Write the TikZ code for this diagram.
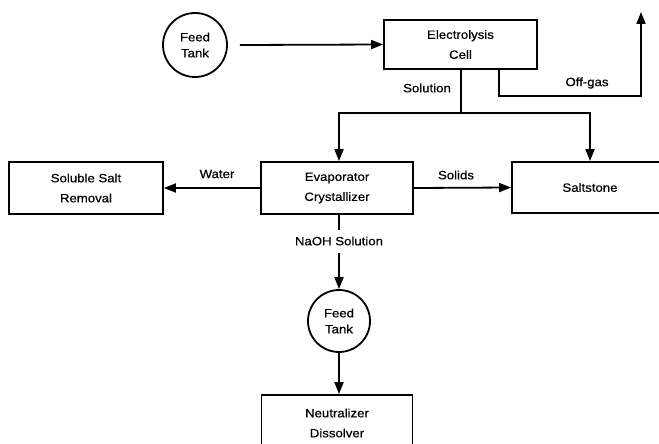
\documentclass[tikz,border=0pt]{standalone}
\usepackage{fontspec}
\setmainfont[FakeStretch=1.1,FakeBold=0.5]{Liberation Sans}
\usetikzlibrary{arrows.meta,shapes.geometric}
\begin{document}
\begin{tikzpicture}[x=1pt,y=-1pt,
  every node/.style={font=\fontsize{12}{20}\selectfont},
  unitbox/.style={draw,line width=1.8pt,rectangle,align=center,inner sep=0pt},
  tank/.style={draw,line width=1.8pt,circle,align=center,inner sep=0pt,minimum size=64pt,font=\fontsize{12}{16}\selectfont},
  flow/.style={line width=1.8pt,-{Triangle[length=12pt,width=9pt]}},
  pipe/.style={line width=1.8pt},
  lbl/.style={inner sep=0pt}]
\useasboundingbox (0,0) rectangle (659,444);
\fill[white] (0,0) rectangle (659,444);
% nodes
\node[tank] (ft1) at (195,45) {Feed\\Tank};
\node[unitbox,minimum width=153pt,minimum height=49pt] (ec) at (460.5,44.5) {Electrolysis\\Cell};
\node[unitbox,minimum width=154pt,minimum height=52pt] (ss) at (86,188) {Soluble Salt\\Removal};
\node[unitbox,minimum width=152pt,minimum height=52pt] (ev) at (337,188) {Evaporator\\Crystallizer};
\node[unitbox,minimum width=156pt,minimum height=51pt] (st) at (590,187.5) {Saltstone};
\node[tank,minimum size=62pt] (ft2) at (339,321) {Feed\\Tank};
\node[unitbox,minimum width=151pt,minimum height=56pt] (nd) at (337,423) {Neutralizer\\Dissolver};
% connector points
\coordinate (sj) at (461,113);
\coordinate (og1) at (499,96);
\coordinate (og2) at (641,96);
\coordinate (ogend) at (641,12);
\coordinate (nl1) at (339,230);
\coordinate (nl2) at (339,253);
% connectors
\draw[flow] (ft1.east) ++(12pt,0) -- (ec.west);
\draw[pipe] (ec.south -| sj) -- (sj);
\draw[flow] (sj) -| (ev.north -| 339,0);
\draw[flow] (sj) -| (st.north);
\draw[flow] (ec.south -| og1) -- (og1) -- (og2) -- (ogend);
\draw[flow] (ev.west) -- (ss.east);
\draw[flow] (ev.east) -- (st.west);
\draw[pipe] (ev.south -| nl1) -- (nl1);
\draw[flow] (nl2) -- (ft2.north);
\draw[flow] (ft2.south) -- (nd.north -| ft2.south);
% labels
\node[lbl] (lsol) at (427,88) {Solution};
\node[lbl] (loff) at (587,83) {Off-gas};
\node[lbl] (lwat) at (217,174) {Water};
\node[lbl] (lsld) at (456,175) {Solids};
\node[lbl] (lnaoh) at (339,241) {NaOH Solution};
\end{tikzpicture}
\end{document}
